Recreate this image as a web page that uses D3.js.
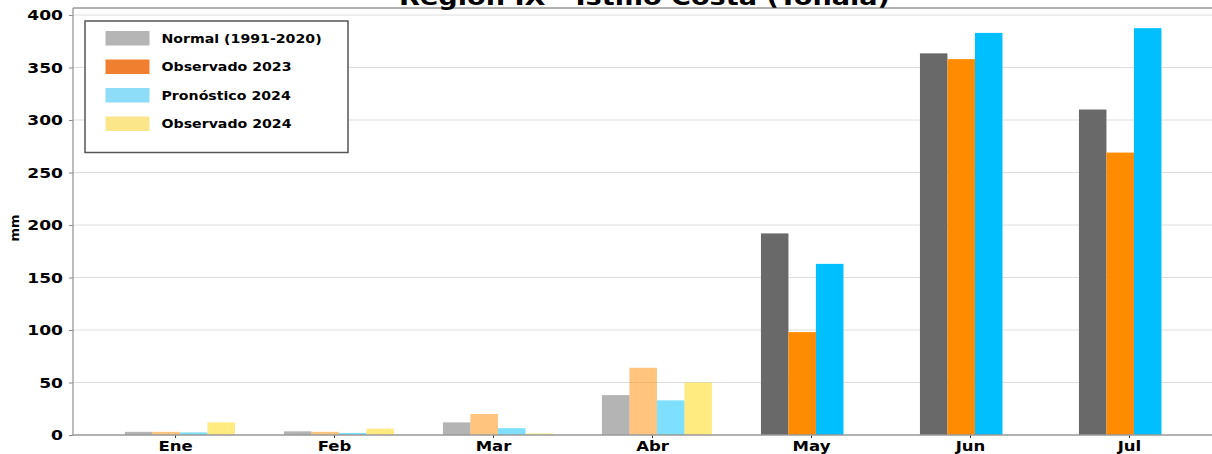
<!DOCTYPE html>
<html>
<head>
<meta charset="utf-8">
<script src="https://cdn.jsdelivr.net/npm/d3@7"></script>
<style>
  html, body { margin: 0; padding: 0; background: #fff; overflow: hidden; }
  svg { display: block; }
  text { font-family: "DejaVu Sans", sans-serif; font-weight: bold; fill: #000; }
</style>
</head>
<body>
<svg id="chart" width="1212" height="454"></svg>
<script>
// ---- Data ----
const months = ["Ene", "Feb", "Mar", "Abr", "May", "Jun", "Jul"];
const seriesNames = ["Normal (1991-2020)", "Observado 2023", "Pronóstico 2024", "Observado 2024"];
const normal     = [3, 3.5, 12, 38, 192, 363.5, 310];
const obs2023    = [3, 3, 20, 64, 98, 358, 269];
const fcst2024   = [2.5, 2, 6.5, 33, 163, 383, 387.5];
const obs2024    = [12, 6, 1.5, 50, null, null, null];
const yTicks     = [0, 50, 100, 150, 200, 250, 300, 350, 400];
const titleText  = "Región IX - Istmo Costa (Tonalá)";
const yLabel     = "mm";

// ---- Styles ----
const barColors    = ["#696969", "#ff8c00", "#00bfff", "#ffd700"];
const legendColors = ["#b5b5b5", "#f08030", "#8ddcf8", "#fce68a"];
const SX = 1.18; // horizontal text stretch of the reference

const svg = d3.select("#chart");
const mLeft = 73, mRight = 1212, mTop = 8, mBottom = 435;

const y = d3.scaleLinear().domain([0, 406.7]).range([mBottom, mTop]);
const x = d3.scalePoint().domain(months).range([175, 1129]);
const bw = 27.5;

// gridlines
svg.append("g").selectAll("line")
  .data(yTicks.filter(d => d > 0))
  .join("line")
  .attr("x1", mLeft).attr("x2", mRight)
  .attr("y1", d => y(d)).attr("y2", d => y(d))
  .attr("stroke", "#dedede").attr("stroke-width", 1);

// bars
const series = [normal, obs2023, fcst2024, obs2024];
const barData = [];
series.forEach((vals, j) => {
  vals.forEach((v, i) => {
    if (v === null) return;
    barData.push({ m: months[i], v, j, faded: obs2024[i] !== null });
  });
});
svg.append("g").selectAll("rect")
  .data(barData)
  .join("rect")
  .attr("x", d => x(d.m) + (d.j - 1.82) * bw)
  .attr("width", bw)
  .attr("y", d => y(d.v))
  .attr("height", d => y(0) - y(d.v))
  .attr("fill", d => barColors[d.j])
  .attr("fill-opacity", d => d.faded ? 0.5 : 1);

// y axis
const yAxis = svg.append("g")
  .attr("transform", `translate(${mLeft},0)`)
  .call(d3.axisLeft(y).tickValues(yTicks).tickSize(4).tickPadding(6));
yAxis.select(".domain").remove();
yAxis.selectAll(".tick line").attr("stroke", "#888");
yAxis.selectAll(".tick text")
  .attr("font-size", "14.5px")
  .attr("font-family", "DejaVu Sans")
  .attr("font-weight", "bold")
  .attr("fill", "#000")
  .attr("x", -10 / SX)
  .attr("transform", `scale(${SX},1)`);

// x axis
const xAxis = svg.append("g")
  .attr("transform", `translate(0,${mBottom})`)
  .call(d3.axisBottom(x).tickSize(3).tickPadding(4));
xAxis.select(".domain").remove();
xAxis.selectAll(".tick line").attr("stroke", "#333");
xAxis.selectAll(".tick text")
  .attr("font-size", "14px")
  .attr("font-family", "DejaVu Sans")
  .attr("font-weight", "bold")
  .attr("fill", "#000")
  .attr("x", 0)
  .attr("y", 16.5)
  .attr("dy", 0)
  .attr("transform", `scale(${SX},1)`);

// spines
svg.append("line").attr("x1", mLeft).attr("x2", mLeft).attr("y1", mTop).attr("y2", mBottom)
  .attr("stroke", "#999").attr("stroke-width", 1.3);
svg.append("line").attr("x1", mLeft).attr("x2", mRight).attr("y1", mBottom).attr("y2", mBottom)
  .attr("stroke", "#999").attr("stroke-width", 1.3);
svg.append("line").attr("x1", mLeft).attr("x2", mRight).attr("y1", mTop).attr("y2", mTop)
  .attr("stroke", "#999").attr("stroke-width", 1.3);

// title (partly cut off at top, as in the reference)
svg.append("text")
  .attr("transform", `translate(${(mLeft + mRight) / 2 + 2},5) scale(${SX},1)`)
  .attr("text-anchor", "middle")
  .attr("font-size", "23px")
  .text(titleText);

// y label
svg.append("text")
  .attr("transform", `translate(18.5,228) rotate(-90)`)
  .attr("text-anchor", "middle")
  .attr("font-size", "13px")
  .text(yLabel);

// legend
const lg = svg.append("g");
lg.append("rect")
  .attr("x", 85).attr("y", 21).attr("width", 263).attr("height", 131.5)
  .attr("fill", "#fff").attr("stroke", "#555").attr("stroke-width", 1.5);
const rowY = d3.scaleLinear().domain([0, 3]).range([38, 123.5]);
seriesNames.forEach((name, i) => {
  lg.append("rect")
    .attr("x", 105.5).attr("y", rowY(i) - 7).attr("width", 44).attr("height", 14.5)
    .attr("fill", legendColors[i]);
  lg.append("text")
    .attr("transform", `translate(161.5,${rowY(i) + 4.5}) scale(${SX},1)`)
    .attr("font-size", "12px")
    .text(name);
});
</script>
</body>
</html>
